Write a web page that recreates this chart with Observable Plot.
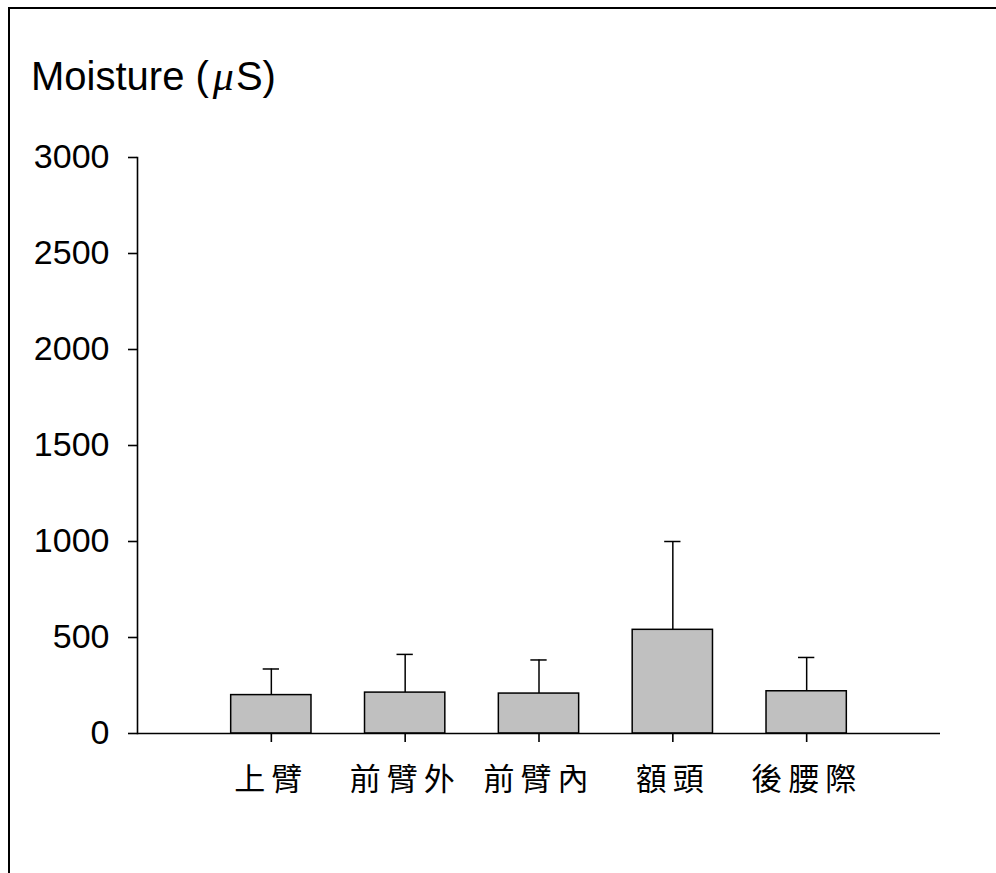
<!DOCTYPE html>
<html>
<head>
<meta charset="utf-8">
<script src="https://cdn.jsdelivr.net/npm/d3@7"></script>
<script src="https://cdn.jsdelivr.net/npm/@observablehq/plot@0.6"></script>
<style>
  html, body { margin: 0; padding: 0; background: #fff; }
  #page { position: relative; width: 996px; height: 873px; overflow: hidden; }
  #border { position: absolute; left: 8px; top: 7px; width: 1200px; height: 1200px;
            border-top: 2px solid #000; border-left: 2px solid #000; }
  #title { position: absolute; left: 31px; top: 56px; font-family: "Liberation Sans", Arial, sans-serif;
           font-size: 40px; line-height: 40px; color: #000; white-space: nowrap; }
  #title i { font-family: "Liberation Serif", "Times New Roman", serif; font-size: 42px; padding: 0 2px 0 4px; }
  #chart { position: absolute; left: 0; top: 0; }
  #chart g[aria-label="x-axis tick label"] text { letter-spacing: 6px; }
</style>
</head>
<body>
<div id="page">
  <div id="border"></div>
  <div id="chart"></div>
  <div id="title">Moisture (<i>μ</i>S)</div>
</div>
<script>
// Skin moisture by body site: mean and standard deviation (μS)
const sites = ["上臂", "前臂外", "前臂內", "額頭", "後腰際"];
const means = [200, 213, 208, 540, 220];
const sds = [136, 199, 175, 460, 176];
const yTicks = [0, 500, 1000, 1500, 2000, 2500, 3000];

const data = sites.map((site, i) => ({site, mean: means[i], sd: sds[i]}));

const chart = Plot.plot({
  width: 996,
  height: 873,
  marginLeft: 137,
  marginRight: 56,
  marginTop: 157,
  marginBottom: 140,
  style: {fontFamily: "'Liberation Sans', Arial, sans-serif", background: "transparent", overflow: "visible"},
  x: {domain: sites, paddingInner: 0.4, paddingOuter: 0.7, round: false, axis: null},
  y: {domain: [0, 3000], axis: null},
  marks: [
    Plot.frame({anchor: "left", strokeWidth: 1.6}),
    Plot.ruleX(data, {x: "site", y1: "mean", y2: d => d.mean + d.sd, strokeWidth: 1.5}),
    Plot.tickY(data, {x: "site", y: d => d.mean + d.sd, inset: 32, strokeWidth: 1.5}),
    Plot.barY(data, {x: "site", y: "mean", fill: "#c0c0c0", stroke: "#000", strokeWidth: 1.5}),
    Plot.ruleY([0], {strokeWidth: 1.6}),
    Plot.axisY({ticks: yTicks, tickFormat: d => String(d), tickSize: 9, tickPadding: 19, fontSize: 34,
                label: null, strokeWidth: 1.6}),
    Plot.axisX({tickSize: 9, tickPadding: 25, fontSize: 31, label: null, strokeWidth: 1.6,
                fontFamily: "'Noto Sans CJK TC', 'Noto Sans CJK SC', sans-serif"})
  ]
});
document.getElementById("chart").appendChild(chart);
</script>
</body>
</html>
